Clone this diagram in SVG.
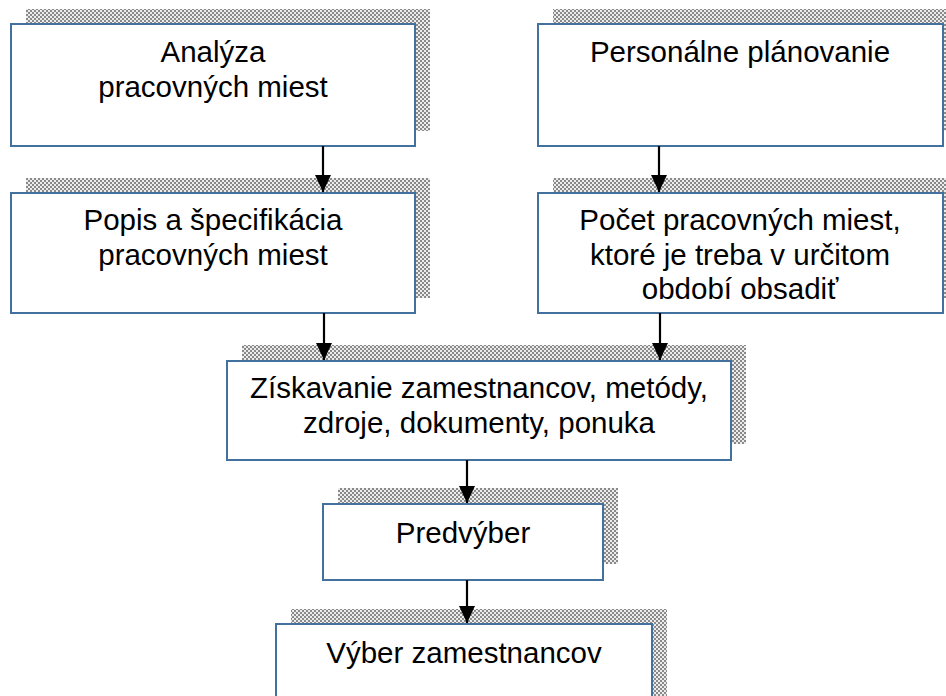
<svg xmlns="http://www.w3.org/2000/svg" width="946" height="696" viewBox="0 0 946 696">
<style>
.box{fill:#ffffff;stroke:#41719c;stroke-width:2}
.shadow{fill:url(#chk)}
.t{font-family:"Liberation Sans",Arial,sans-serif;font-size:29.5px;fill:#000000;text-anchor:middle}
.conn line{stroke:#000000;stroke-width:2.2;marker-end:url(#ah)}
</style>
<defs>
<pattern id="chk" x="0" y="0" width="4" height="4" patternUnits="userSpaceOnUse">
<rect width="4" height="4" fill="#ececec"/>
<rect x="0" y="0" width="2" height="2" fill="#8a8a8a"/>
<rect x="2" y="2" width="2" height="2" fill="#8a8a8a"/>
</pattern>
<marker id="ah" markerWidth="17" markerHeight="16" refX="17" refY="8" orient="auto" markerUnits="userSpaceOnUse">
<path d="M0,0 L17,8 L0,16 Z" fill="#000000"/>
</marker>
</defs>
<g id="n1">
<rect class="shadow" x="26" y="9" width="404" height="122"/>
<rect class="box" x="11" y="24" width="404" height="122"/>
<text class="t" x="213" y="62">Analýza</text>
<text class="t" x="213" y="97">pracovných miest</text>
</g>
<g id="n2">
<rect class="shadow" x="553" y="9" width="405" height="122"/>
<rect class="box" x="538" y="24" width="405" height="122"/>
<text class="t" x="740" y="62">Personálne plánovanie</text>
</g>
<g id="n3">
<rect class="shadow" x="26" y="178" width="404" height="120"/>
<rect class="box" x="11" y="193" width="404" height="120"/>
<text class="t" x="213" y="230">Popis a špecifikácia</text>
<text class="t" x="213" y="265">pracovných miest</text>
</g>
<g id="n4">
<rect class="shadow" x="553" y="178" width="405" height="120"/>
<rect class="box" x="538" y="193" width="405" height="120"/>
<text class="t" x="740" y="230">Počet pracovných miest,</text>
<text class="t" x="740" y="265">ktoré je treba v určitom</text>
<text class="t" x="740" y="299">období obsadiť</text>
</g>
<g id="n5">
<rect class="shadow" x="242" y="345" width="504" height="99"/>
<rect class="box" x="227" y="361" width="504" height="99"/>
<text class="t" x="479" y="398">Získavanie zamestnancov, metódy,</text>
<text class="t" x="479" y="433">zdroje, dokumenty, ponuka</text>
</g>
<g id="n6">
<rect class="shadow" x="338" y="488" width="280" height="76"/>
<rect class="box" x="323" y="504" width="280" height="76"/>
<text class="t" x="463" y="543">Predvýber</text>
</g>
<g id="n7">
<rect class="shadow" x="291" y="609" width="376" height="90"/>
<rect class="box" x="276" y="624" width="376" height="90"/>
<text class="t" x="464" y="663">Výber zamestnancov</text>
</g>
<g id="connectors" class="conn">
<line x1="323" y1="146" x2="323" y2="192"/>
<line x1="659" y1="146" x2="659" y2="192"/>
<line x1="324" y1="313" x2="324" y2="360"/>
<line x1="660" y1="313" x2="660" y2="360"/>
<line x1="467" y1="460" x2="467" y2="503"/>
<line x1="467" y1="580" x2="467" y2="623"/>
</g>
</svg>
